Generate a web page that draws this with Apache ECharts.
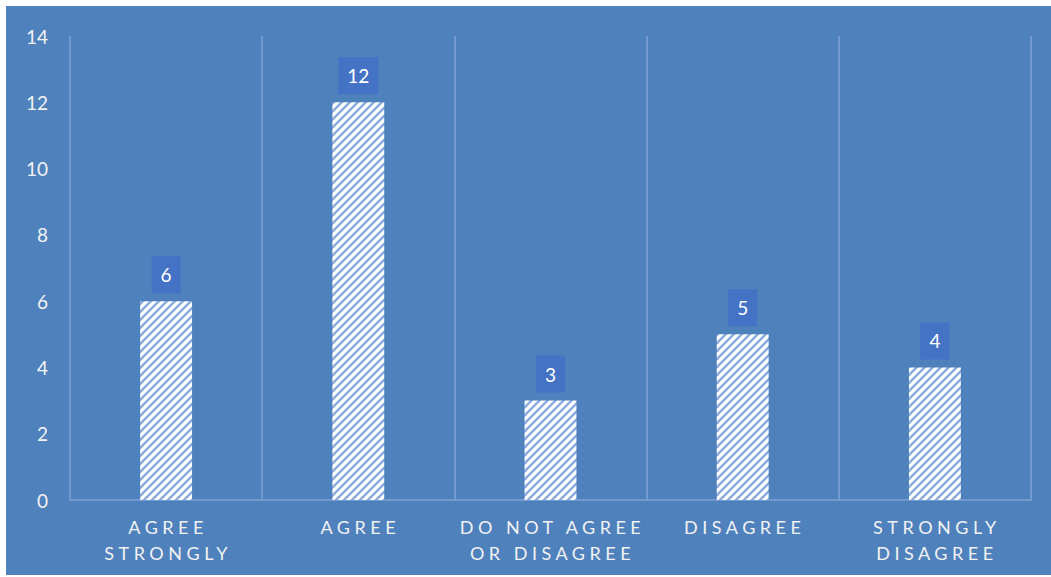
<!DOCTYPE html>
<html>
<head>
<meta charset="utf-8">
<script src="https://cdn.jsdelivr.net/npm/echarts@6/dist/echarts.min.js"></script>
<style>
  html, body { margin: 0; padding: 0; background: #ffffff; }
  #chart { position: absolute; left: 6px; top: 6px; width: 1045px; height: 569px; }
</style>
</head>
<body>
<div id="chart"></div>
<script>
// Survey answers and how many respondents chose each
const categories = ['AGREE\nSTRONGLY', 'AGREE', 'DO NOT AGREE\nOR DISAGREE', 'DISAGREE', 'STRONGLY\nDISAGREE'];
const responses = [6, 12, 3, 5, 4];
const yMin = 0;
const yMax = 14;
const yStep = 2;

// Diagonal hatch tile used to fill the bars
function hatchTile() {
  const size = 8;
  const c = document.createElement('canvas');
  c.width = size; c.height = size;
  const g = c.getContext('2d');
  g.fillStyle = '#ffffff';
  g.fillRect(0, 0, size, size);
  g.strokeStyle = '#8aabdc';
  g.lineWidth = 2.4;
  g.beginPath();
  g.moveTo(0, size); g.lineTo(size, 0);
  g.moveTo(-2, 2); g.lineTo(2, -2);
  g.moveTo(size - 2, size + 2); g.lineTo(size + 2, size - 2);
  g.stroke();
  return { image: c.toDataURL(), repeat: 'repeat', imageWidth: size, imageHeight: size };
}

const FONT = 'Lato, "Open Sans", sans-serif';
const chart = echarts.init(document.getElementById('chart'), null, { renderer: 'svg' });

chart.setOption({
  animation: false,
  backgroundColor: '#4f81bd',
  grid: { left: 64, right: 20, top: 30, bottom: 75, containLabel: false },
  xAxis: {
    type: 'category',
    data: categories,
    boundaryGap: true,
    axisLine: { show: true, lineStyle: { color: '#7fa2d4', width: 1.5 } },
    axisTick: { show: false },
    splitLine: { show: true, interval: 0, lineStyle: { color: '#7fa2d4', width: 1.5 } },
    axisLabel: {
      interval: 0,
      color: '#f2f2f2',
      fontFamily: FONT,
      fontSize: 18,
      lineHeight: 26,
      margin: 14
    }
  },
  yAxis: {
    type: 'value',
    min: yMin,
    max: yMax,
    interval: yStep,
    axisLine: { show: false },
    axisTick: { show: false },
    splitLine: { show: false },
    axisLabel: { color: '#f2f2f2', fontFamily: FONT, fontSize: 19, margin: 22 }
  },
  series: [{
    type: 'bar',
    data: responses,
    barWidth: '27%',
    itemStyle: { color: hatchTile() },
    label: {
      show: true,
      position: 'top',
      distance: 8,
      color: '#ffffff',
      fontFamily: FONT,
      fontSize: 19,
      lineHeight: 23,
      backgroundColor: '#4472c4',
      padding: [7, 9]
    }
  }]
});

// Spread the letters of the category captions
function spaceCaptions() {
  document.querySelectorAll('#chart text').forEach(function (t) {
    if (/^[A-Z][A-Z ]*$/.test(t.textContent.trim())) {
      t.setAttribute('letter-spacing', '4.5');
      t.setAttribute('dx', '2');
    }
  });
}
chart.on('finished', spaceCaptions);
spaceCaptions();
</script>
</body>
</html>
